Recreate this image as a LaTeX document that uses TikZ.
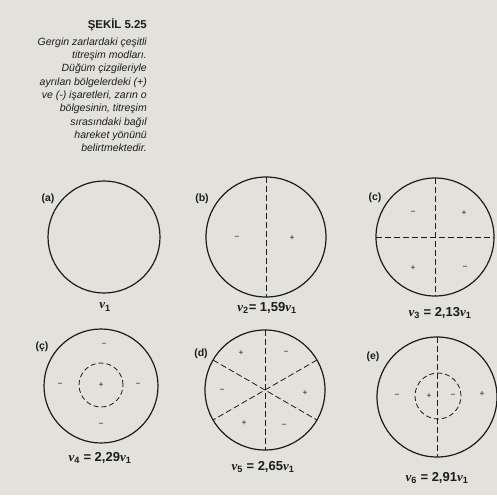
\documentclass[tikz,border=0pt]{standalone}
\usepackage{fontspec}
\setmainfont{Liberation Sans}
\newfontfamily\grk{Liberation Serif}
\newcommand{\nuu}[1]{{\grk\bfseries\itshape ν}\textsubscript{#1}}
\definecolor{paper}{RGB}{226,225,219}
\definecolor{ink}{RGB}{28,28,28}
\begin{document}
\begin{tikzpicture}[x=1pt,y=-1pt,
  mem/.style={circle,draw=ink,line width=1.2pt,inner sep=0pt,outer sep=0pt},
  inner/.style={circle,draw=ink,line width=0.8pt,dash pattern=on 5pt off 3pt,inner sep=0pt,outer sep=0pt},
  nodal/.style={draw=ink,line width=0.8pt,dash pattern=on 6pt off 3pt},
  sgn/.style={font=\fontsize{8.5}{9}\selectfont,inner sep=0pt,text=ink},
  tag/.style={font=\bfseries\fontsize{10.5}{12}\selectfont,inner sep=0pt,text=ink},
  freq/.style={font=\bfseries\fontsize{13}{15}\selectfont,inner sep=0pt,text=ink}]
\fill[paper] (0,0) rectangle (497,495);
\useasboundingbox (0,0) rectangle (497,495);

% caption
\node[anchor=base east,inner sep=0pt,text=ink,font=\bfseries\fontsize{11.4}{13}\selectfont] (title) at (147,29) {ŞEKİL 5.25};
\node[anchor=north east,inner sep=0pt,align=right,text=ink,font=\itshape\fontsize{10.5}{13.3}\selectfont] (cap) at (147,37.5)
 {Gergin zarlardaki çeşitli\\titreşim modları.\\Düğüm çizgileriyle\\ayrılan bölgelerdeki (+)\\ve (-) işaretleri, zarın o\\bölgesinin, titreşim\\sırasındaki bağıl\\hareket yönünü\\belirtmektedir.};

% (a)
\node[mem,minimum size=112pt] (ca) at (104,237) {};
\node[tag] (la) at (48,199) {(a)};
\node[freq] (fa) at (105,307) {\nuu{1}};

% (b)
\node[mem,minimum size=120pt] (cb) at (266,237) {};
\draw[nodal] (cb.north) -- (cb.south);
\node[tag] (lb) at (202,199) {(b)};
\node[sgn] (b1) at (237,238) {−};
\node[sgn] (b2) at (292,238) {+};
\node[freq] (fb) at (267,308) {\nuu{2}= 1,59\nuu{1}};

% (c)
\node[mem,minimum size=118pt] (cc) at (435,237) {};
\draw[nodal] (cc.north) -- (cc.south);
\draw[nodal] (cc.west) -- (cc.east);
\node[tag] (lc) at (375,198) {(c)};
\node[sgn] (c1) at (413,213) {−};
\node[sgn] (c2) at (464,213) {+};
\node[sgn] (c3) at (413,268) {+};
\node[sgn] (c4) at (465,268) {−};
\node[freq] (fc) at (440,313) {\nuu{3} = 2,13\nuu{1}};

% (ç)
\node[mem,minimum size=114pt] (cd4) at (101,386) {};
\node[inner,minimum size=44pt] (id4) at (101,385) {};
\node[tag] (ld4) at (42,347) {(ç)};
\node[sgn] (e1) at (101,385) {+};
\node[sgn] (e2) at (104,345) {−};
\node[sgn] (e3) at (60,385) {−};
\node[sgn] (e4) at (138,385) {−};
\node[sgn] (e5) at (101,425) {−};
\node[freq] (fd4) at (100,458) {\nuu{4} = 2,29\nuu{1}};

% (d)
\node[mem,minimum size=120pt] (cd) at (265,390) {};
\draw[nodal] (cd.north) -- (cd.south);
\draw[nodal] (cd.150) -- (cd.330);
\draw[nodal] (cd.30) -- (cd.210);
\node[tag] (ld) at (201,354) {(d)};
\node[sgn] (d1) at (241,353) {+};
\node[sgn] (d2) at (286,353) {−};
\node[sgn] (d3) at (222,391) {−};
\node[sgn] (d4) at (305,393) {+};
\node[sgn] (d5) at (244,423) {+};
\node[sgn] (d6) at (284,426) {−};
\node[freq] (fd) at (263,467) {\nuu{5} = 2,65\nuu{1}};

% (e)
\node[mem,minimum size=120pt] (ce) at (437,397) {};
\node[inner,minimum size=46pt] (ie) at (438,396) {};
\draw[nodal] (ce.north) -- (ce.south);
\node[tag] (le) at (373,357) {(e)};
\node[sgn] (g1) at (397,396) {−};
\node[sgn] (g2) at (429,396) {+};
\node[sgn] (g3) at (453,396) {−};
\node[sgn] (g4) at (482,394) {+};
\node[freq] (fe) at (437,478) {\nuu{6} = 2,91\nuu{1}};
\end{tikzpicture}
\end{document}
